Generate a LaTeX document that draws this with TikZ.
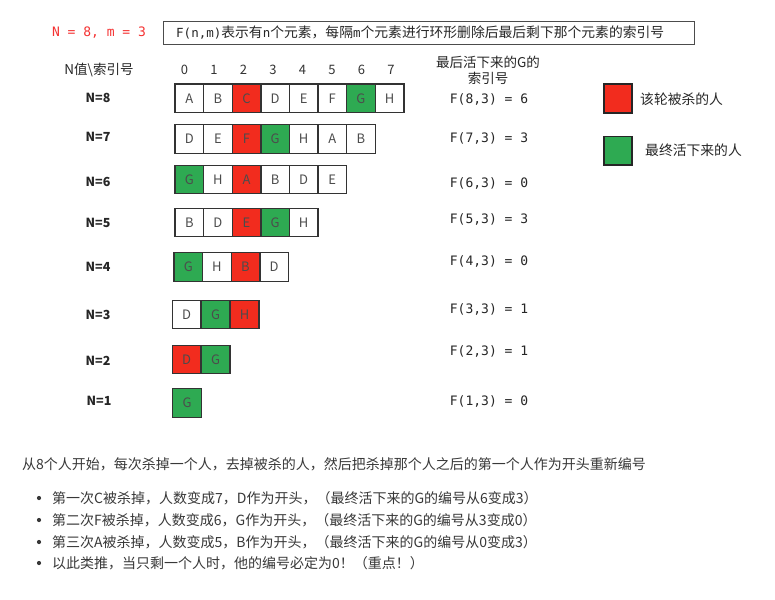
\documentclass[tikz,border=0pt]{standalone}
\usepackage{fontspec}
\setmainfont{Noto Sans CJK SC}
\newfontfamily\monof{DejaVu Sans Mono}
\begin{document}
\begin{tikzpicture}[x=1pt,y=-1pt,
  killc/.style={fill={rgb,255:red,242;green,44;blue,30}},
  livec/.style={fill={rgb,255:red,46;green,170;blue,82}},
  cellbox/.style={draw=black!80,line width=1.4pt,minimum width=28.6pt,minimum height=28.5pt,inner sep=0pt,
    font=\fontsize{13}{15}\selectfont,text=black!70},
  idx/.style={font=\fontsize{13}{15}\selectfont,text=black!80},
  rowlab/.style={font=\fontsize{12.5}{15}\selectfont\bfseries,text=black!85},
  fval/.style={font=\monof\fontsize{13}{15}\selectfont,text=black!85},
  body/.style={font=\fontsize{14}{16}\selectfont,text=black!78,anchor=west,inner sep=0pt},
  bulletdot/.style={circle,fill=black!78,inner sep=0pt,minimum size=4.2pt},
  legendbox/.style={draw=black!85,line width=1.5pt,minimum width=28pt,minimum height=28.5pt,inner sep=0pt}]
\path[use as bounding box,fill=white] (0,0) rectangle (775,599);

% title
\node[font=\monof\fontsize{13}{15}\selectfont,text={rgb,255:red,245;green,50;blue,50}] (nm) at (99,33) {N = 8, m = 3};
\node[draw=black!70,line width=0.8pt,minimum width=531pt,minimum height=23pt,inner sep=0pt] (defbox) at (428.5,32.5) {};
\node[anchor=west,inner sep=0pt,font=\fontsize{13.8}{16}\selectfont,text=black!85] (deftext) at (176,32.5)
  {{\monof\fontsize{12.5}{15}\selectfont F(n,m)}表示有{\monof\fontsize{12.5}{15}\selectfont n}个元素，每隔{\monof\fontsize{12.5}{15}\selectfont m}个元素进行环形删除后最后剩下那个元素的索引号};

% headers
\node[font=\fontsize{13.5}{16}\selectfont,text=black!85] (hdr) at (99,70) {N值\textbackslash 索引号};
\foreach \i in {0,...,7} \node[idx] (ix\i) at ({184.5+29.5*\i},70) {\i};
\node[font=\fontsize{13.5}{16}\selectfont,text=black!85] (fh1) at (488,62) {最后活下来的G的};
\node[font=\fontsize{13.5}{16}\selectfont,text=black!85] (fh2) at (488,78) {索引号};

% rows
\node[rowlab] (l8) at (98,98) {N=8};
\foreach \l/\s [count=\i from 0] in {A/,B/,C/killc,D/,E/,F/,G/livec,H/}
  \node[cellbox,\s] (r8c\i) at ({189.3+28.6*\i},98.3) {\l};
\node[fval] (f8) at (489,99) {F(8,3) = 6};

\node[rowlab] (l7) at (98,137) {N=7};
\foreach \l/\s [count=\i from 0] in {D/,E/,F/killc,G/livec,H/,A/,B/}
  \node[cellbox,\s] (r7c\i) at ({189.3+28.6*\i},139) {\l};
\node[fval] (f7) at (489,138) {F(7,3) = 3};

\node[rowlab] (l6) at (98,182) {N=6};
\foreach \l/\s [count=\i from 0] in {G/livec,H/,A/killc,B/,D/,E/}
  \node[cellbox,\s] (r6c\i) at ({189.3+28.6*\i},179.5) {\l};
\node[fval] (f6) at (489,183) {F(6,3) = 0};

\node[rowlab] (l5) at (98,223) {N=5};
\foreach \l/\s [count=\i from 0] in {B/,D/,E/killc,G/livec,H/}
  \node[cellbox,\s] (r5c\i) at ({189.3+28.6*\i},222.5) {\l};
\node[fval] (f5) at (489,219) {F(5,3) = 3};

\node[rowlab] (l4) at (98,267) {N=4};
\foreach \l/\s [count=\i from 0] in {G/livec,H/,B/killc,D/}
  \node[cellbox,\s] (r4c\i) at ({188.3+28.6*\i},267) {\l};
\node[fval] (f4) at (489,261) {F(4,3) = 0};

\node[rowlab] (l3) at (98,315) {N=3};
\foreach \l/\s [count=\i from 0] in {D/,G/livec,H/killc}
  \node[cellbox,\s] (r3c\i) at ({186.5+29*\i},314.5) {\l};
\node[fval] (f3) at (489,309) {F(3,3) = 1};

\node[rowlab] (l2) at (98,361) {N=2};
\foreach \l/\s [count=\i from 0] in {D/killc,G/livec}
  \node[cellbox,\s] (r2c\i) at ({186.5+29*\i},359.5) {\l};
\node[fval] (f2) at (489,351) {F(2,3) = 1};

\node[rowlab] (l1) at (99,401) {N=1};
\node[cellbox,livec] (r1c0) at (187,403) {G};
\node[fval] (f1) at (489,401) {F(1,3) = 0};

% legend
\node[legendbox,killc] (lgk) at (618,98.5) {};
\node[anchor=west,inner sep=0pt,font=\fontsize{13.8}{16}\selectfont,text=black!85] (lgkt) at (640,99) {该轮被杀的人};
\node[legendbox,livec] (lgl) at (618,150.5) {};
\node[anchor=west,inner sep=0pt,font=\fontsize{13.8}{16}\selectfont,text=black!85] (lglt) at (645,150) {最终活下来的人};

% bottom text
\node[body] (p0) at (22,464) {从8个人开始，每次杀掉一个人，去掉被杀的人，然后把杀掉那个人之后的第一个人作为开头重新编号};
\node[bulletdot] (b1) at (39,498) {};
\node[body] (t1) at (52,498) {第一次C被杀掉，人数变成7，D作为开头，（最终活下来的G的编号从6变成3）};
\node[bulletdot] (b2) at (39,520) {};
\node[body] (t2) at (52,520) {第二次F被杀掉，人数变成6，G作为开头，（最终活下来的G的编号从3变成0）};
\node[bulletdot] (b3) at (39,542) {};
\node[body] (t3) at (52,542) {第三次A被杀掉，人数变成5，B作为开头，（最终活下来的G的编号从0变成3）};
\node[bulletdot] (b4) at (39,563) {};
\node[body] (t4) at (52,563) {以此类推，当只剩一个人时，他的编号必定为0！（重点！）};
\end{tikzpicture}
\end{document}
